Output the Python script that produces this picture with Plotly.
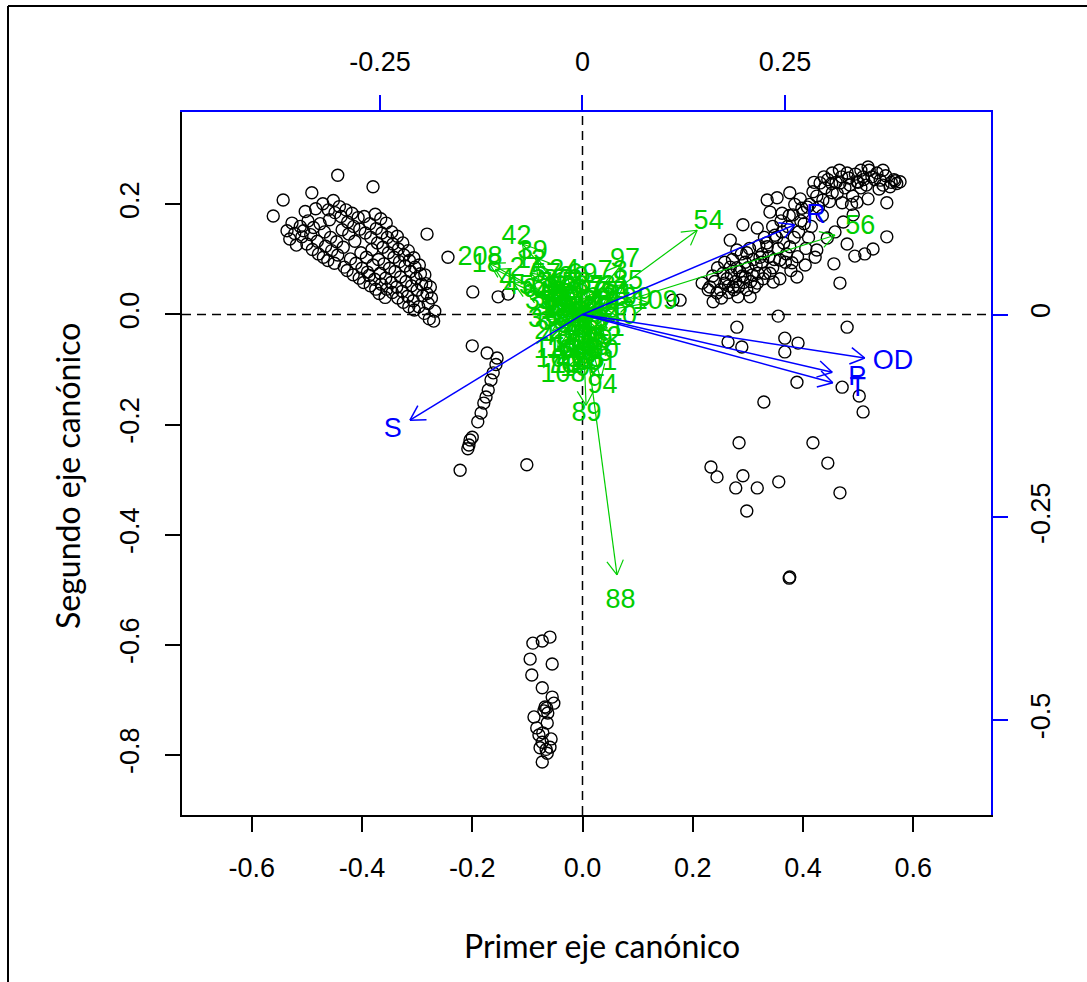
import math
import plotly.graph_objects as go

# ---------------- site scores ----------------
siteA_x = [-0.536,-0.531,-0.527,-0.522,-0.519,-0.512,-0.509,
           -0.503,-0.506,-0.500,-0.498,-0.493,-0.490,-0.488,
           -0.484,-0.481,-0.479,-0.476,-0.471,-0.468,-0.466,-0.470,
           -0.461,-0.459,-0.457,-0.455,-0.462,-0.452,-0.449,-0.446,-0.444,-0.450,
           -0.441,-0.438,-0.436,-0.434,-0.432,-0.429,-0.426,-0.424,-0.421,-0.427,
           -0.418,-0.415,-0.413,-0.411,-0.416,-0.407,-0.404,-0.402,-0.400,-0.405,
           -0.396,-0.394,-0.392,-0.390,-0.397,-0.386,-0.384,-0.382,-0.380,-0.387,-0.385,
           -0.376,-0.374,-0.372,-0.370,-0.377,-0.375,
           -0.366,-0.364,-0.362,-0.360,-0.367,-0.365,-0.369,
           -0.356,-0.354,-0.352,-0.350,-0.357,-0.355,-0.358,
           -0.346,-0.344,-0.342,-0.340,-0.347,-0.345,
           -0.336,-0.334,-0.332,-0.330,-0.337,-0.335,
           -0.326,-0.324,-0.322,-0.320,-0.327,-0.325,
           -0.316,-0.314,-0.312,-0.310,-0.317,-0.315,
           -0.306,-0.304,-0.302,-0.300,-0.307,-0.305,
           -0.296,-0.294,-0.292,-0.290,-0.297,
           -0.286,-0.284,-0.282,-0.280,-0.287,
           -0.276,-0.274,-0.278,-0.270,-0.268,
           -0.444,-0.380,-0.543,-0.491,-0.561,-0.282,-0.244,-0.199,-0.153,-0.135]
siteA_y = [0.152,0.137,0.166,0.147,0.126,0.160,0.141,
           0.187,0.152,0.128,0.170,0.145,0.118,0.158,
           0.192,0.133,0.110,0.165,0.201,0.150,0.124,0.104,
           0.190,0.172,0.140,0.116,0.098,0.207,0.185,0.132,0.108,0.093,
           0.196,0.178,0.154,0.122,0.086,0.190,0.168,0.146,0.101,0.080,
           0.184,0.160,0.133,0.093,0.072,0.176,0.155,0.112,0.084,0.066,
           0.178,0.148,0.104,0.077,0.058,0.165,0.140,0.118,0.090,0.071,0.052,
           0.182,0.156,0.130,0.100,0.064,0.046,
           0.174,0.148,0.122,0.092,0.075,0.055,0.038,
           0.166,0.140,0.112,0.084,0.066,0.046,0.031,
           0.150,0.128,0.104,0.078,0.058,0.040,
           0.142,0.119,0.096,0.068,0.050,0.030,
           0.130,0.108,0.088,0.060,0.042,0.022,
           0.116,0.098,0.078,0.052,0.033,0.014,
           0.103,0.086,0.066,0.044,0.025,0.008,
           0.090,0.074,0.055,0.034,0.014,
           0.072,0.056,0.038,0.020,0.002,
           0.050,0.030,-0.008,-0.012,0.006,
           0.253,0.232,0.208,0.221,0.179,0.146,0.104,0.041,0.032,0.037]

siteB_x = [-0.200,-0.173,-0.155,-0.157,-0.162,-0.166,-0.171,-0.175,-0.179,-0.184,-0.190,
           -0.200,-0.204,-0.206,-0.208,-0.222,-0.101]
siteB_y = [-0.057,-0.070,-0.079,-0.091,-0.106,-0.119,-0.137,-0.150,-0.161,-0.179,-0.195,
           -0.223,-0.228,-0.237,-0.244,-0.283,-0.273]

siteC_x = [-0.059,-0.073,-0.090,-0.095,-0.055,-0.092,-0.073,-0.055,-0.052,-0.068,-0.063,-0.088,
           -0.064,-0.083,-0.079,-0.057,-0.073,-0.077,-0.059,-0.064,-0.073,-0.070,-0.065,-0.072,-0.066]
siteC_y = [-0.586,-0.593,-0.597,-0.626,-0.635,-0.655,-0.678,-0.695,-0.706,-0.713,-0.724,-0.731,
           -0.742,-0.751,-0.764,-0.771,-0.777,-0.787,-0.786,-0.797,-0.813,-0.720,-0.715,-0.760,-0.790]

siteD_x = [0.576,0.567,0.552,0.552,0.527,0.512,0.494,0.467,0.456,0.480,0.498,0.518,0.540,0.534,
           0.518,0.509,0.498,0.480,0.453,0.467,0.453,0.431,0.418,0.436,0.471,0.491,0.473,0.458,
           0.444,0.425,0.422,0.404,0.389,0.380,0.358,0.376,0.349,0.335,0.322,0.298,0.280,0.268,
           0.291,0.317,0.335,0.353,0.376,0.398,0.382,0.362,0.340,0.268,0.258,0.273,0.295,0.317,
           0.331,0.346,0.304,0.282,0.244,0.237,0.217,0.231,
           0.255,0.262,0.270,0.278,0.285,0.292,0.300,0.308,0.315,0.325,0.338,0.345,0.355,0.365,
           0.370,0.392,0.402,0.410,0.412,0.425,0.440,0.445,0.460,0.470,0.485,0.490,0.505,0.515,
           0.525,0.545,0.560,0.545,0.505,0.275,0.265,0.290,0.305,0.250,0.240,0.320,0.330,0.345,
           0.360,0.375,0.385,0.395,0.400,0.164,0.177,
           0.228,0.236,0.245,0.252,0.258,0.265,0.272,0.280,0.283,0.288,0.295,0.298,0.303,0.310,
           0.312,0.318,0.326,0.328,0.334,0.340,0.348,0.352,0.358,0.362,0.368,0.372,0.378,0.384,
           0.390,0.396,0.405,0.408,0.415,0.420,0.428,0.435,0.438,0.448,0.452,0.462,0.466,0.476,
           0.483,0.488,0.495,0.500,0.510,0.520,0.530,0.538,0.550,0.558,0.565,0.570]
siteD_y = [0.241,0.243,0.203,0.141,0.119,0.110,0.106,0.057,0.092,0.128,0.204,0.210,0.244,0.257,
           0.268,0.250,0.241,0.257,0.257,0.239,0.221,0.239,0.223,0.208,0.203,0.181,0.168,0.150,
           0.139,0.117,0.104,0.090,0.068,0.094,0.099,0.123,0.144,0.123,0.104,0.112,0.117,0.135,
           0.163,0.157,0.208,0.212,0.221,0.193,0.181,0.184,0.186,0.086,0.057,0.050,0.068,0.057,
           0.075,0.059,0.032,0.032,0.039,0.023,0.057,0.050,
           0.075,0.065,0.072,0.060,0.078,0.058,0.085,0.072,0.090,0.095,0.105,0.085,0.120,0.130,
           0.110,0.150,0.165,0.140,0.200,0.215,0.230,0.245,0.240,0.250,0.235,0.215,0.230,0.235,
           0.250,0.235,0.240,0.262,0.262,0.045,0.052,0.070,0.060,0.045,0.060,0.125,0.140,0.160,
           0.170,0.180,0.200,0.210,0.185,0.026,0.026,
           0.045,0.070,0.085,0.030,0.095,0.040,0.100,0.085,0.050,0.110,0.095,0.045,0.120,0.100,
           0.050,0.075,0.110,0.065,0.130,0.075,0.100,0.140,0.065,0.150,0.095,0.160,0.080,0.140,
           0.105,0.170,0.120,0.195,0.160,0.240,0.195,0.180,0.250,0.205,0.238,0.220,0.262,0.230,
           0.248,0.200,0.255,0.240,0.245,0.262,0.245,0.228,0.252,0.232,0.245,0.238]

siteE_x = [0.355,0.280,0.480,0.264,0.289,0.367,0.391,0.367,0.389,0.471,0.502,0.509,0.329,0.284,
           0.418,0.445,0.233,0.244,0.291,0.278,0.317,0.356,0.467,0.298,0.376,0.375]
siteE_y = [-0.003,-0.023,-0.023,-0.050,-0.059,-0.043,-0.052,-0.068,-0.123,-0.132,-0.148,-0.177,
           -0.159,-0.233,-0.233,-0.270,-0.277,-0.295,-0.293,-0.315,-0.315,-0.304,-0.324,-0.357,
           -0.477,-0.479]

# ---------------- species scores (green arrows) ----------------
sp_names = ["88","54","56","97","85","7","109","42","208","18","39","4","57","27","12","45","63",
            "71","33","13","24","20","8","29","17","22","3","2","11","14","9","28","21","6","19",
            "30","16","25","26","15","10","5","110","103","108","104","102","101","94","89","73",
            "91","99","1","31","35","40","44",
            "32","34","36","37","38","41","43","46","47","48","49","50","51","52","53","55","58",
            "59","60","61","62","64","65","66","67","68","69","70"]
sp_x = [0.0626,0.208,0.458,0.070,0.075,0.024,0.120,-0.109,-0.169,-0.158,-0.082,-0.125,-0.060,
        -0.095,-0.085,-0.105,-0.075,-0.050,-0.070,-0.035,-0.030,-0.015,-0.040,-0.060,-0.045,
        -0.055,-0.020,0.010,0.020,0.040,0.030,0.050,0.045,0.015,0.025,0.035,0.005,0.010,-0.020,
        -0.025,-0.010,-0.030,-0.045,-0.040,-0.032,-0.015,0.000,0.020,0.033,0.0065,0.050,0.060,
        0.090,-0.005,0.055,-0.065,0.065,-0.010,
        -0.040,-0.050,-0.030,0.010,0.025,-0.015,-0.045,0.020,-0.005,0.035,-0.055,0.000,-0.020,
        0.015,-0.035,0.030,-0.010,-0.025,0.005,-0.040,0.040,-0.015,0.025,-0.050,0.045,-0.060,
        0.000,-0.035]
sp_y = [-0.473,0.153,0.144,0.090,0.054,0.041,0.021,0.128,0.093,0.082,0.102,0.057,0.065,0.075,
        0.088,0.045,0.040,0.050,0.020,0.045,0.072,0.060,0.030,0.010,0.005,-0.030,0.010,0.020,
        0.005,0.020,-0.010,0.010,-0.025,-0.030,-0.045,-0.060,-0.060,-0.075,-0.070,-0.050,-0.040,
        -0.020,-0.060,-0.075,-0.100,-0.085,-0.090,-0.080,-0.118,-0.165,0.070,0.030,0.025,0.030,
        0.045,-0.010,-0.005,-0.015,
        0.055,0.020,0.035,0.045,0.020,0.020,-0.040,-0.055,-0.025,0.005,0.035,0.010,-0.010,
        -0.015,-0.005,0.035,0.050,0.055,-0.045,0.015,-0.040,-0.060,-0.065,-0.015,0.035,0.045,
        0.065,-0.085]

# ---------------- environmental variables (blue arrows) ----------------
env_names = ["R", "OD", "P", "T", "S"]
env_x = [0.385, 0.512, 0.453, 0.454, -0.313]
env_y = [0.163, -0.079, -0.105, -0.124, -0.192]

# axis ticks
x_ticks = [-0.6, -0.4, -0.2, 0.0, 0.2, 0.4, 0.6]
x_ticktext = ["-0.6", "-0.4", "-0.2", "0.0", "0.2", "0.4", "0.6"]
y_ticks = [-0.8, -0.6, -0.4, -0.2, 0.0, 0.2]
y_ticktext = ["-0.8", "-0.6", "-0.4", "-0.2", "0.0", "0.2"]
x2_ticks = [-0.25, 0.0, 0.25]
x2_ticktext = ["-0.25", "0", "0.25"]
y2_ticks = [-0.5, -0.25, 0.0]
y2_ticktext = ["-0.5", "-0.25", "0"]

GREEN = "#00CD00"
BLUE = "#0000FF"
TICKFONT = dict(family="Liberation Sans, Arial", size=27, color="black")
TITLEFONT = dict(family="Lato, Noto Sans", size=32, color="black")

W, H = 1087, 982
PL, PR, PT, PB = 182, 991, 112, 815


def arrow_path(xs, ys, head=0.030, ang=math.radians(30)):
    px, py = [], []
    for x, y in zip(xs, ys):
        r = math.hypot(x, y)
        ux, uy = x / r, y / r
        px += [0, x, None]
        py += [0, y, None]
        for s in (1, -1):
            c, sn = math.cos(s * ang), math.sin(s * ang)
            dx = ux * c - uy * sn
            dy = ux * sn + uy * c
            px += [x, x - head * dx, None]
            py += [y, y - head * dy, None]
    return px, py


fig = go.Figure()

all_x = siteA_x + siteB_x + siteC_x + siteD_x + siteE_x
all_y = siteA_y + siteB_y + siteC_y + siteD_y + siteE_y
fig.add_trace(go.Scatter(x=all_x, y=all_y, mode="markers",
                         marker=dict(symbol="circle-open", size=12, color="black",
                                     line=dict(width=1.4, color="black")),
                         hoverinfo="skip", showlegend=False))

gx, gy = arrow_path(sp_x, sp_y)
fig.add_trace(go.Scatter(x=gx, y=gy, mode="lines", line=dict(color=GREEN, width=1.2),
                         hoverinfo="skip", showlegend=False))
fig.add_trace(go.Scatter(x=[1.1 * v for v in sp_x], y=[1.1 * v for v in sp_y], mode="text",
                         text=sp_names, textposition="middle center",
                         textfont=dict(family="Liberation Sans, Arial", size=27, color=GREEN),
                         hoverinfo="skip", showlegend=False))

bx, by = arrow_path(env_x, env_y)
fig.add_trace(go.Scatter(x=bx, y=by, mode="lines", line=dict(color=BLUE, width=1.5),
                         hoverinfo="skip", showlegend=False))
fig.add_trace(go.Scatter(x=[1.1 * v for v in env_x], y=[1.1 * v for v in env_y], mode="text",
                         text=env_names, textposition="middle center",
                         textfont=dict(family="Liberation Sans, Arial", size=27, color=BLUE),
                         hoverinfo="skip", showlegend=False))

# invisible traces to activate secondary axes
fig.add_trace(go.Scatter(x=[0], y=[0], xaxis="x2", yaxis="y", mode="markers",
                         marker=dict(opacity=0), hoverinfo="skip", showlegend=False))
fig.add_trace(go.Scatter(x=[0], y=[0], xaxis="x", yaxis="y2", mode="markers",
                         marker=dict(opacity=0), hoverinfo="skip", showlegend=False))

xdom = [PL / W, PR / W]
ydom = [1 - PB / H, 1 - PT / H]

common = dict(showgrid=False, zeroline=False, showline=True, linewidth=1.5,
              ticks="outside", ticklen=15, tickwidth=1.5, tickfont=TICKFONT)

fig.update_layout(
    width=W, height=H, autosize=False,
    margin=dict(l=0, r=0, t=0, b=0),
    paper_bgcolor="white", plot_bgcolor="white",
    xaxis=dict(domain=xdom, range=[-0.7265, 0.7410], anchor="y",
               tickvals=x_ticks, ticktext=x_ticktext, linecolor="black", tickcolor="black",
               ticklabelstandoff=13, **common),
    yaxis=dict(domain=ydom, range=[-0.9092, 0.3678], anchor="x",
               tickvals=y_ticks, ticktext=y_ticktext, linecolor="black", tickcolor="black",
               tickangle=-90, ticklabelstandoff=15, **common),
    xaxis2=dict(overlaying="x", side="top", anchor="y", range=[-0.4944, 0.5043],
                tickvals=x2_ticks, ticktext=x2_ticktext, linecolor=BLUE, tickcolor=BLUE,
                ticklabelstandoff=13, **common),
    yaxis2=dict(overlaying="y", side="right", anchor="x", range=[-0.6171, 0.2497],
                tickvals=y2_ticks, ticktext=y2_ticktext, linecolor=BLUE, tickcolor=BLUE,
                tickangle=-90, ticklabelstandoff=10, **common),
    shapes=[
        dict(type="line", xref="x", yref="y domain", x0=0, x1=0, y0=0, y1=1,
             line=dict(color="black", width=1.5, dash="9px,6px"), layer="below"),
        dict(type="line", xref="x domain", yref="y", x0=0, x1=1, y0=0, y1=0,
             line=dict(color="black", width=1.5, dash="9px,6px"), layer="below"),
        dict(type="line", xref="paper", yref="paper", x0=8 / W, x1=8 / W, y0=0, y1=1 - 6 / H,
             line=dict(color="black", width=2)),
        dict(type="line", xref="paper", yref="paper", x0=8 / W, x1=1, y0=1 - 6 / H, y1=1 - 6 / H,
             line=dict(color="black", width=2)),
    ],
    annotations=[
        dict(text="Primer eje canónico", xref="paper", yref="paper", x=602 / W, y=1 - 945 / H,
             showarrow=False, font=TITLEFONT, xanchor="center", yanchor="middle"),
        dict(text="Segundo eje canónico", xref="paper", yref="paper", x=68 / W, y=1 - 476 / H,
             showarrow=False, font=TITLEFONT, textangle=-90, xanchor="center", yanchor="middle"),
    ],
)

fig.write_html("out.html")
